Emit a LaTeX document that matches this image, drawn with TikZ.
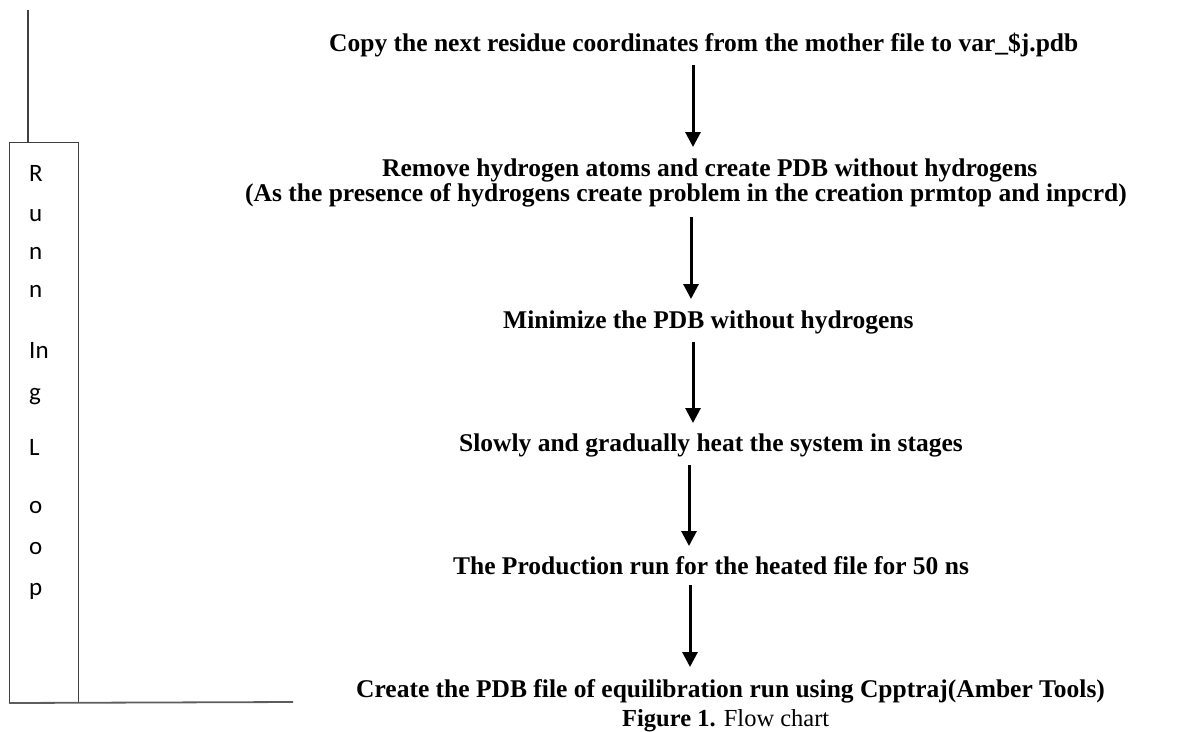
\documentclass[tikz,border=0pt]{standalone}
\usepackage{fontspec}
\setmainfont{Liberation Serif}
\newfontfamily\loopfont{Carlito}
\usetikzlibrary{arrows.meta}
\definecolor{rulegray}{HTML}{404040}
\begin{document}
\begin{tikzpicture}[x=1pt,y=-1pt,
  steptext/.style={font=\bfseries\fontsize{25.5}{25.5}\selectfont, anchor=base west, inner sep=0pt},
  flow/.style={line width=3pt, -{Triangle[length=15pt,width=15pt]}},
  letter/.style={font=\loopfont\fontsize{25}{25}\selectfont, anchor=base west, inner sep=0pt},
  loopline/.style={draw=rulegray, line width=1.4pt}]
\useasboundingbox (0,0) rectangle (1180,731);

% flow steps
\node[steptext] (copy) at (329,51) {Copy the next residue coordinates from the mother file to var\_\$j.pdb};
\node[steptext] (remove) at (382,176) {Remove hydrogen atoms and create PDB without hydrogens};
\node[steptext] (reason) at (245,201) {(As the presence of hydrogens create problem in the creation prmtop and inpcrd)};
\node[steptext] (minimize) at (503,328) {Minimize the PDB without hydrogens};
\node[steptext, anchor=base] (heat) at (711,451) {Slowly and gradually heat the system in stages};
\node[steptext, anchor=base] (prod) at (711,574) {The Production run for the heated file for 50 ns};
\node[steptext] (create) at (356,697) {Create the PDB file of equilibration run using Cpptraj(Amber Tools)};
\node[anchor=base west, inner sep=0pt, font=\fontsize{24.5}{24.5}\selectfont] (caption) at (622,726) {\textbf{Figure 1.} Flow chart};

% arrows between the steps
\coordinate (a1s) at (693,65);  \coordinate (a1e) at (693,147);
\coordinate (a2s) at (691,217); \coordinate (a2e) at (691,299);
\coordinate (a3s) at (693,342); \coordinate (a3e) at (693,423);
\coordinate (a4s) at (689,465); \coordinate (a4e) at (689,546);
\coordinate (a5s) at (690,585); \coordinate (a5e) at (690,667);
\draw[flow] (a1s) -- (a1e);
\draw[flow] (a2s) -- (a2e);
\draw[flow] (a3s) -- (a3e);
\draw[flow] (a4s) -- (a4e);
\draw[flow] (a5s) -- (a5e);

% loop box on the left
\node[draw=rulegray, line width=1pt, minimum width=69pt, minimum height=560pt,
      inner sep=0pt, anchor=north west] (loop) at (9,142) {};
\coordinate (looptop) at (28,10);
\coordinate (loopend) at (293,702);
\draw[loopline] (looptop) -- (looptop |- loop.north);
\draw[loopline, line width=1.8pt, draw=rulegray!85] (loop.south west) -- (loopend);

\foreach \t/\yy in {R/181, u/221, n/259, n/297, In/358, g/400, L/455, o/513, o/554, p/595}
  \node[letter] (letter\yy) at (29,\yy) {\t};
\end{tikzpicture}
\end{document}
